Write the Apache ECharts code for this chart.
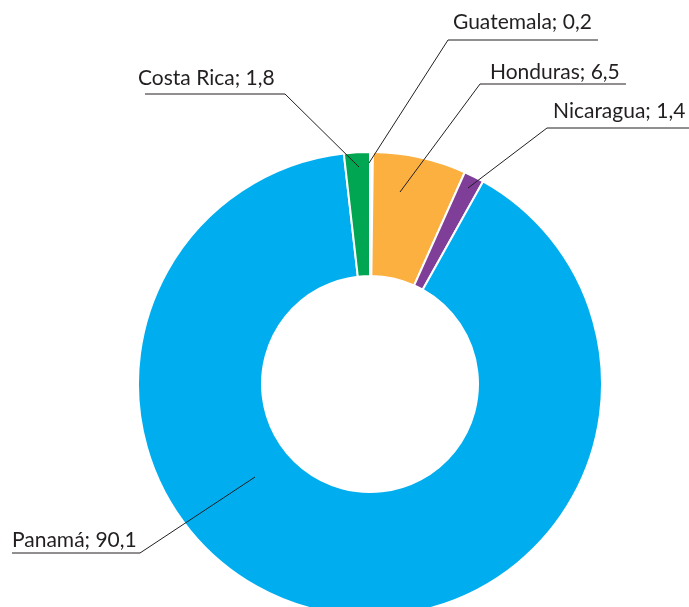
<!DOCTYPE html>
<html>
<head>
<meta charset="utf-8">
<script src="https://cdn.jsdelivr.net/npm/echarts@6/dist/echarts.min.js"></script>
<style>
html,body{margin:0;padding:0;background:#fff;}
#c{width:689px;height:607px;}
</style>
</head>
<body>
<div id="c"></div>
<script>
const categories = ['Guatemala', 'Honduras', 'Nicaragua', 'Panamá', 'Costa Rica'];
const values = [0.2, 6.5, 1.4, 90.1, 1.8];
const colors = ['#ffffff', '#fbb040', '#7f3f98', '#00aeef', '#00a651'];

// label placement: [text left x, underline y, underline start x, underline end x, anchor x, anchor y, text bottom y]
const labelSpots = [
  [453, 40, 448, 598, 369, 163, 33],
  [490, 84, 480, 626, 400, 192, 83],
  [553, 128, 547, 689, 468, 188, 122],
  [12, 553, 140, 12, 255, 477, 551],
  [138, 94, 285, 145, 359, 167, 89]
];

const fmt = p => p.name + '; ' + String(p.value).replace('.', ',');
const pieData = categories.map((n, i) => ({name: n, value: values[i], itemStyle: {color: colors[i]}}));

const chart = echarts.init(document.getElementById('c'), null, {renderer: 'canvas'});
chart.setOption({
  animation: false,
  series: [{
    type: 'pie',
    z: 2,
    center: [370, 384],
    radius: [108, 232],
    startAngle: 90,
    clockwise: true,
    itemStyle: {borderColor: '#fff', borderWidth: 2},
    label: {show: false},
    labelLine: {show: false},
    data: pieData
  }, {
    type: 'pie',
    z: 5,
    silent: true,
    center: [370, 384],
    radius: [108, 232],
    startAngle: 90,
    clockwise: true,
    avoidLabelOverlap: false,
    itemStyle: {color: 'rgba(0,0,0,0)', borderWidth: 0},
    label: {
      show: true,
      position: 'outside',
      fontFamily: 'Lato',
      fontSize: 21,
      color: '#231f20',
      formatter: fmt
    },
    labelLine: {show: true, lineStyle: {color: '#231f20', width: 1}},
    labelLayout: function (params) {
      const s = labelSpots[params.dataIndex];
      return {
        x: s[0],
        y: s[6],
        align: 'left',
        verticalAlign: 'bottom',
        labelLinePoints: [[s[4], s[5]], [s[2], s[1]], [s[3], s[1]]]
      };
    },
    data: categories.map((n, i) => ({name: n, value: values[i]}))
  }]
});
</script>
</body>
</html>
